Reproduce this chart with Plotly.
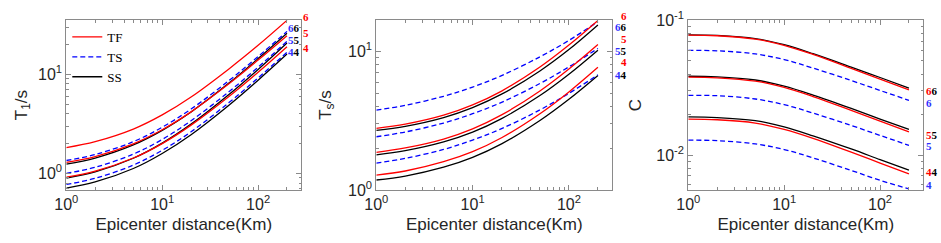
import math
import plotly.graph_objects as go

# ---------------- data ----------------
distance_km = [1, 2, 5, 10, 20, 50, 100, 200]
magnitudes = ["6", "5", "4"]

# Panel 1: T1 (s)
t1_tf = [[1.82, 2.09, 2.80, 3.89, 5.90, 11.4, 19.6, 35.0],
         [1.29, 1.48, 1.99, 2.76, 4.18, 8.06, 13.9, 24.5],
         [0.918, 1.055, 1.43, 2.00, 3.07, 6.01, 10.5, 19.0]]
t1_ts = [[1.35, 1.55, 2.09, 2.92, 4.46, 8.68, 15.1, 27.1],
         [1.00, 1.152, 1.566, 2.20, 3.40, 6.71, 11.8, 21.5],
         [0.774, 0.892, 1.213, 1.71, 2.63, 5.21, 9.19, 16.7]]
t1_ss = [[1.24, 1.43, 1.94, 2.72, 4.17, 8.20, 14.4, 26.0],
         [0.899, 1.038, 1.422, 2.02, 3.14, 6.29, 11.2, 20.7],
         [0.711, 0.820, 1.121, 1.59, 2.46, 4.91, 8.72, 16.0]]

# Panel 2: Ts (s)
ts_tf = [[2.78, 2.98, 3.46, 4.11, 5.17, 7.70, 11.1, 16.7],
         [1.87, 2.01, 2.33, 2.76, 3.48, 5.18, 7.46, 11.2],
         [1.28, 1.37, 1.60, 1.89, 2.38, 3.55, 5.10, 7.68]]
ts_ts = [[3.77, 4.08, 4.74, 5.52, 6.69, 9.13, 12.0, 16.4],
         [2.42, 2.62, 3.04, 3.55, 4.29, 5.86, 7.73, 10.5],
         [1.56, 1.69, 1.96, 2.29, 2.77, 3.78, 4.98, 6.77]]
ts_ss = [[2.69, 2.88, 3.33, 3.93, 4.91, 7.22, 10.3, 15.5],
         [1.79, 1.92, 2.22, 2.61, 3.27, 4.80, 6.84, 10.2],
         [1.18, 1.26, 1.46, 1.72, 2.15, 3.17, 4.51, 6.70]]

# Panel 3: C
c_tf = [[0.0778, 0.0770, 0.0727, 0.0654, 0.0559, 0.0441, 0.0367, 0.0305],
        [0.0379, 0.0375, 0.0354, 0.0318, 0.0272, 0.0215, 0.0179, 0.0149],
        [0.0185, 0.0183, 0.0173, 0.0155, 0.0133, 0.0105, 0.00873, 0.00725]]
c_ts = [[0.0600, 0.0595, 0.0564, 0.0512, 0.0443, 0.0358, 0.0302, 0.0255],
        [0.0278, 0.0276, 0.0261, 0.0237, 0.0205, 0.0166, 0.0140, 0.0118],
        [0.0129, 0.0128, 0.0121, 0.0110, 0.00953, 0.00769, 0.00650, 0.00560]]
c_ss = [[0.0782, 0.0774, 0.0733, 0.0660, 0.0566, 0.0450, 0.0377, 0.0314],
        [0.0385, 0.0381, 0.0361, 0.0325, 0.0279, 0.0222, 0.0185, 0.0155],
        [0.0192, 0.0190, 0.0180, 0.0162, 0.0139, 0.0111, 0.00925, 0.00772]]

x_tickvals = [1, 10, 100]
x_ticktext = ["10<sup>0</sup>", "10<sup>1</sup>", "10<sup>2</sup>"]
y1_tickvals = [1, 10]
y1_ticktext = ["10<sup>0</sup>", "10<sup>1</sup>"]
y3_tickvals = [0.01, 0.1]
y3_ticktext = ["10<sup>-2</sup>", "10<sup>-1</sup>"]

series_names = ["TF", "TS", "SS"]

# ---------------- styles ----------------
RED = "#ff0000"
BLUE = "#0000ff"
BLACK = "#000000"
styles = {
    "TF": dict(color=RED, width=1.3, dash="solid"),
    "TS": dict(color=BLUE, width=1.3, dash="5px,3px"),
    "SS": dict(color=BLACK, width=1.3, dash="solid"),
}
legend_rank = {"TF": 1, "TS": 2, "SS": 3}
label_colors = {"TF": RED, "TS": "#3030ff", "SS": BLACK}

W, H = 941, 243
panel_px = [(55, 293), (369, 608), (685, 923)]
top_px, bot_px = 10, 195
x_range = [0, 2.45]
y_ranges = [[-0.167, 1.546], [0.0, 1.225], [-2.259, -0.998]]
y_standoff = [6, 12, 10]

panels = [
    dict(data={"TF": t1_tf, "TS": t1_ts, "SS": t1_ss}, title="T<sub>1</sub>/s",
         tickvals=y1_tickvals, ticktext=y1_ticktext),
    dict(data={"TF": ts_tf, "TS": ts_ts, "SS": ts_ss}, title="T<sub>s</sub>/s",
         tickvals=y1_tickvals, ticktext=y1_ticktext),
    dict(data={"TF": c_tf, "TS": c_ts, "SS": c_ss}, title="C",
         tickvals=y3_tickvals, ticktext=y3_ticktext),
]

minor_vals = [m * 10 ** e for e in range(-4, 4) for m in range(2, 10)]

fig = go.Figure()

FRAME = "#8a8a8a"
TXT = "#262626"

for i, p in enumerate(panels):
    sfx = "" if i == 0 else str(i + 1)
    xa, ya = "x" + sfx, "y" + sfx
    for name in ["SS", "TS", "TF"]:
        for k, vals in enumerate(p["data"][name]):
            fig.add_trace(go.Scatter(
                x=distance_km, y=vals, mode="lines", xaxis=xa, yaxis=ya,
                line=dict(shape="spline", smoothing=1.0, **styles[name]),
                name=name, legendgroup=name, legendrank=legend_rank[name],
                showlegend=(i == 0 and k == 0), hoverinfo="skip"))
    x0, x1 = panel_px[i]
    common = dict(type="log", showgrid=False, zeroline=False, showline=True,
                  linecolor=FRAME, linewidth=1, mirror="allticks", ticks="inside",
                  ticklen=5, tickcolor=FRAME, tickwidth=1,
                  ticklabeloverflow="allow",
                  tickfont=dict(family="Liberation Sans", size=16, color=TXT),
                  minor=dict(ticks="inside", ticklen=2.5, tickcolor=FRAME,
                             tickvals=minor_vals, showgrid=False))
    fig.layout["xaxis" + sfx] = dict(
        common, domain=[x0 / W, x1 / W], anchor=ya, range=x_range,
        tickmode="array", tickvals=x_tickvals, ticktext=x_ticktext,
        title=dict(text="Epicenter distance(Km)", standoff=5,
                   font=dict(family="Liberation Sans", size=17, color=TXT)))
    fig.layout["yaxis" + sfx] = dict(
        common, domain=[1 - bot_px / H, 1 - top_px / H], anchor=xa,
        range=y_ranges[i], tickmode="array", tickvals=p["tickvals"],
        ticktext=p["ticktext"],
        title=dict(text=p["title"], standoff=y_standoff[i],
                   font=dict(family="Liberation Sans", size=17, color=TXT)))

# ---------------- end-of-curve magnitude labels ----------------
# Each group: list of series drawn side by side in one label,
# the series whose end value anchors the label, x in axis-domain fraction,
# and per-magnitude pixel shifts.
label_groups = [
    [(["TF"], "TF", 1.021, [3, 3, -1]),
     (["TS", "SS"], "SS", 0.971, [5, 3, 2])],
    [(["TF"], "TF", 1.05, [4, 6, 5]),
     (["TS", "SS"], "SS", 1.036, [-2, -1, 0])],
    [(["TF", "SS"], "TF", 1.038, [-1, -3, 2]),
     (["TS"], "TS", 1.025, [-3, -1, 4])],
]
for i, p in enumerate(panels):
    sfx = "" if i == 0 else str(i + 1)
    lo, hi = y_ranges[i]
    for names, src_name, xfrac, shifts in label_groups[i]:
        src = p["data"][src_name]
        for k, mag in enumerate(magnitudes):
            yv = math.log10(src[k][-1])
            yfrac = (yv - lo) / (hi - lo)
            txt = "".join("<span style='color:%s'>%s</span>" % (label_colors[n], mag)
                          for n in names)
            fig.add_annotation(
                text="<b>%s</b>" % txt, xref="x" + sfx + " domain",
                yref="y" + sfx + " domain", x=xfrac, y=yfrac, yshift=shifts[k],
                showarrow=False, xanchor="center", yanchor="middle",
                font=dict(family="Liberation Serif", size=11,
                          color=label_colors[names[0]]))

fig.update_layout(
    width=W, height=H, margin=dict(l=0, r=0, t=0, b=0, pad=0),
    paper_bgcolor="white", plot_bgcolor="white",
    legend=dict(x=56 / W, y=1 - 12 / H, xanchor="left", yanchor="top",
                traceorder="normal",
                bgcolor="rgba(0,0,0,0)", borderwidth=0, tracegroupgap=0,
                font=dict(family="Liberation Serif", size=13, color="black"),
                itemwidth=30),
)

fig.write_html("out.html", config={"displayModeBar": False},
               post_script="document.body.style.margin='0';document.body.style.overflow='hidden';")
